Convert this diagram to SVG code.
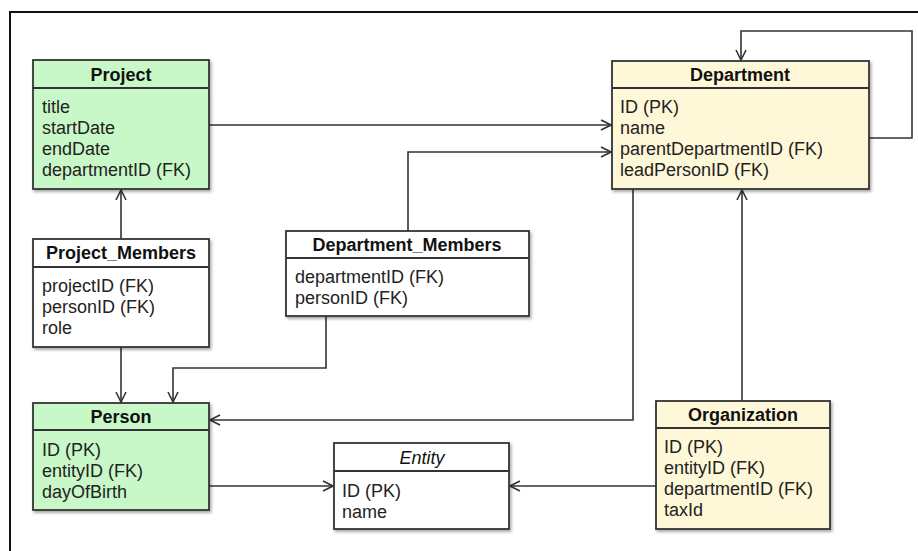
<svg xmlns="http://www.w3.org/2000/svg" width="918" height="551" viewBox="0 0 918 551">
<defs>
<marker id="arr" viewBox="0 0 12 12" refX="11" refY="6" markerWidth="12" markerHeight="12" markerUnits="userSpaceOnUse" orient="auto">
<path d="M1,1 L11,6 L1,11" fill="none" stroke="#333" stroke-width="1.6"/>
</marker>
<filter id="sh" x="-5%" y="-5%" width="115%" height="120%">
<feDropShadow dx="1.5" dy="2" stdDeviation="1.5" flood-color="#000" flood-opacity="0.35"/>
</filter>
</defs>
<style>
.box{stroke:#333;stroke-width:1.8;filter:url(#sh)}
.g{fill:#c8f8c8}.y{fill:#fef8d8}.w{fill:#fff}
.div{stroke:#333;stroke-width:1.8}
.t{font-family:"Liberation Sans",Arial,sans-serif;font-size:18px;font-weight:bold;fill:#111;text-anchor:middle}
.ti{font-family:"Liberation Sans",Arial,sans-serif;font-size:18px;font-style:italic;fill:#111;text-anchor:middle}
.a{font-family:"Liberation Sans",Arial,sans-serif;font-size:18px;fill:#222}
.c{fill:none;stroke:#333;stroke-width:1.6;marker-end:url(#arr)}
</style>
<rect width="918" height="551" fill="#fff"/>
<path d="M10,551 V12 H918" fill="none" stroke="#111" stroke-width="2"/>
<g id="connectors">
<path class="c" d="M209,125 H611"/>
<path class="c" d="M408,231 V152 H611"/>
<path class="c" d="M869,138 H912 V31 H741 V60"/>
<path class="c" d="M121,239 V190"/>
<path class="c" d="M121,347 V402"/>
<path class="c" d="M326,316 V368 H173 V402"/>
<path class="c" d="M633,189 V420 H210"/>
<path class="c" d="M742,401 V190"/>
<path class="c" d="M209,486 H333"/>
<path class="c" d="M656,486 H510"/>
</g>
<g id="project">
<rect class="box g" x="33" y="60" width="176" height="129"/>
<line class="div" x1="33" y1="88" x2="209" y2="88"/>
<text class="t" x="121" y="81">Project</text>
<text class="a" x="42" y="113">title</text>
<text class="a" x="42" y="134">startDate</text>
<text class="a" x="42" y="155">endDate</text>
<text class="a" x="42" y="176">departmentID (FK)</text>
</g>
<g id="department">
<rect class="box y" x="612" y="61" width="257" height="128"/>
<line class="div" x1="612" y1="88" x2="869" y2="88"/>
<text class="t" x="740" y="81">Department</text>
<text class="a" x="620" y="113">ID (PK)</text>
<text class="a" x="620" y="134">name</text>
<text class="a" x="620" y="155">parentDepartmentID (FK)</text>
<text class="a" x="620" y="176">leadPersonID (FK)</text>
</g>
<g id="project_members">
<rect class="box w" x="33" y="239" width="176" height="108"/>
<line class="div" x1="33" y1="267" x2="209" y2="267"/>
<text class="t" x="121" y="259">Project_Members</text>
<text class="a" x="42" y="292">projectID (FK)</text>
<text class="a" x="42" y="313">personID (FK)</text>
<text class="a" x="42" y="334">role</text>
</g>
<g id="department_members">
<rect class="box w" x="286" y="231" width="243" height="85"/>
<line class="div" x1="286" y1="258" x2="529" y2="258"/>
<text class="t" x="407" y="251">Department_Members</text>
<text class="a" x="295" y="283">departmentID (FK)</text>
<text class="a" x="295" y="304">personID (FK)</text>
</g>
<g id="person">
<rect class="box g" x="33" y="403" width="176" height="107"/>
<line class="div" x1="33" y1="430" x2="209" y2="430"/>
<text class="t" x="121" y="423">Person</text>
<text class="a" x="42" y="456">ID (PK)</text>
<text class="a" x="42" y="477">entityID (FK)</text>
<text class="a" x="42" y="498">dayOfBirth</text>
</g>
<g id="entity">
<rect class="box w" x="334" y="443" width="175" height="86"/>
<line class="div" x1="334" y1="471" x2="509" y2="471"/>
<text class="ti" x="422" y="464">Entity</text>
<text class="a" x="342" y="497">ID (PK)</text>
<text class="a" x="342" y="518">name</text>
</g>
<g id="organization">
<rect class="box y" x="656" y="401" width="174" height="128"/>
<line class="div" x1="656" y1="428" x2="830" y2="428"/>
<text class="t" x="743" y="421">Organization</text>
<text class="a" x="664" y="453">ID (PK)</text>
<text class="a" x="664" y="474">entityID (FK)</text>
<text class="a" x="664" y="495">departmentID (FK)</text>
<text class="a" x="664" y="516">taxId</text>
</g>
</svg>
